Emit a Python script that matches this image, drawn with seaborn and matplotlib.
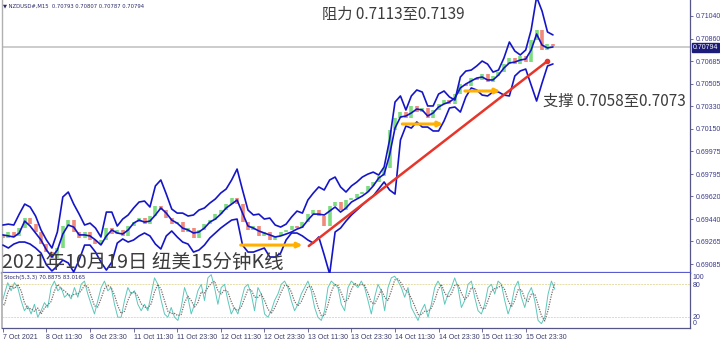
import numpy as np
import pandas as pd
import matplotlib
matplotlib.use("Agg")
import matplotlib.pyplot as plt
import matplotlib.transforms as mtransforms
import seaborn as sns

sns.set_theme(style="white")
plt.rcParams['font.family'] = ['Noto Sans CJK SC', 'DejaVu Sans']

# ---------------- data (NZDUSD M15, sampled every 6 bars) ----------------
SAMPLE_STEP_BARS = 6
upper = [0.69393, 0.69400, 0.69393, 0.69479, 0.69558, 0.69535, 0.69464, 0.69354, 0.69275, 0.69212,
         0.69338, 0.69614, 0.69653, 0.69558, 0.69479, 0.69393, 0.69408, 0.69369, 0.69299, 0.69495,
         0.69495, 0.69385, 0.69440, 0.69472, 0.69527, 0.69574, 0.69582, 0.69535, 0.69701, 0.69748,
         0.69637, 0.69519, 0.69487, 0.69487, 0.69464, 0.69472, 0.69511, 0.69527, 0.69566, 0.69598,
         0.69645, 0.69677, 0.69748, 0.69834, 0.69669, 0.69511, 0.69472, 0.69479, 0.69440, 0.69448,
         0.69393, 0.69377, 0.69400, 0.69456, 0.69503, 0.69487, 0.69590, 0.69645, 0.69693, 0.69669,
         0.69748, 0.69771, 0.69693, 0.69653, 0.69701, 0.69732, 0.69771, 0.69794, 0.69810, 0.69787,
         0.69850, 0.70063, 0.70362, 0.70410, 0.70299, 0.70410, 0.70457, 0.70441, 0.70331, 0.70331,
         0.70425, 0.70449, 0.70402, 0.70378, 0.70559, 0.70606, 0.70614, 0.70646, 0.70685, 0.70661,
         0.70598, 0.70614, 0.70709, 0.70835, 0.70764, 0.70733, 0.70772, 0.70930, 0.71190, 0.71079,
         0.70914, 0.70891]
middle = [0.69315, 0.69307, 0.69299, 0.69330, 0.69424, 0.69385, 0.69330, 0.69275, 0.69196, 0.69141,
          0.69196, 0.69322, 0.69393, 0.69377, 0.69315, 0.69315, 0.69307, 0.69275, 0.69236, 0.69307,
          0.69354, 0.69330, 0.69322, 0.69354, 0.69408, 0.69432, 0.69416, 0.69424, 0.69472, 0.69527,
          0.69487, 0.69432, 0.69408, 0.69369, 0.69354, 0.69330, 0.69338, 0.69369, 0.69416, 0.69440,
          0.69479, 0.69527, 0.69558, 0.69590, 0.69487, 0.69385, 0.69369, 0.69346, 0.69330, 0.69315,
          0.69299, 0.69307, 0.69322, 0.69338, 0.69361, 0.69377, 0.69432, 0.69479, 0.69479, 0.69472,
          0.69503, 0.69535, 0.69495, 0.69527, 0.69574, 0.69598, 0.69622, 0.69653, 0.69701, 0.69763,
          0.69794, 0.69945, 0.70157, 0.70244, 0.70252, 0.70276, 0.70307, 0.70299, 0.70252, 0.70276,
          0.70323, 0.70347, 0.70362, 0.70394, 0.70473, 0.70504, 0.70528, 0.70551, 0.70559, 0.70536,
          0.70536, 0.70575, 0.70630, 0.70670, 0.70677, 0.70693, 0.70701, 0.70772, 0.70898, 0.70811,
          0.70788, 0.70796]
lower = [0.69235, 0.69212, 0.69243, 0.69259, 0.69259, 0.69243, 0.69212, 0.69172, 0.69078, 0.69031,
         0.69070, 0.69117, 0.69094, 0.69023, 0.69117, 0.69235, 0.69235, 0.69180, 0.69101, 0.69038,
         0.69101, 0.69251, 0.69283, 0.69259, 0.69275, 0.69307, 0.69330, 0.69307, 0.69243, 0.69204,
         0.69307, 0.69346, 0.69299, 0.69259, 0.69243, 0.69180, 0.69196, 0.69235, 0.69291, 0.69330,
         0.69369, 0.69401, 0.69432, 0.69440, 0.69235, 0.69180, 0.69180, 0.69196, 0.69212, 0.69141,
         0.69141, 0.69172, 0.69275, 0.69330, 0.69330, 0.69307, 0.69275, 0.69251, 0.69299, 0.69157,
         0.69007, 0.69338, 0.69369, 0.69424, 0.69472, 0.69511, 0.69551, 0.69590, 0.69622, 0.69677,
         0.69732, 0.69669, 0.69637, 0.70063, 0.70173, 0.70157, 0.70205, 0.70165, 0.70165, 0.70134,
         0.70134, 0.70213, 0.70315, 0.70323, 0.70283, 0.70402, 0.70473, 0.70457, 0.70417, 0.70410,
         0.70441, 0.70441, 0.70417, 0.70410, 0.70567, 0.70607, 0.70622, 0.70496, 0.70370, 0.70512,
         0.70646, 0.70662]
close = [0.69291, 0.69338, 0.69307, 0.69369, 0.69448, 0.69401, 0.69338, 0.69243, 0.69180, 0.69133,
         0.69212, 0.69385, 0.69432, 0.69338, 0.69291, 0.69338, 0.69275, 0.69243, 0.69275, 0.69369,
         0.69322, 0.69354, 0.69307, 0.69385, 0.69416, 0.69448, 0.69401, 0.69464, 0.69543, 0.69511,
         0.69448, 0.69401, 0.69416, 0.69338, 0.69369, 0.69291, 0.69354, 0.69401, 0.69432, 0.69479,
         0.69511, 0.69558, 0.69606, 0.69558, 0.69416, 0.69354, 0.69385, 0.69307, 0.69338, 0.69275,
         0.69307, 0.69338, 0.69354, 0.69385, 0.69369, 0.69416, 0.69479, 0.69511, 0.69464, 0.69385,
         0.69543, 0.69574, 0.69511, 0.69590, 0.69606, 0.69637, 0.69653, 0.69701, 0.69732, 0.69779,
         0.69842, 0.70142, 0.70236, 0.70283, 0.70236, 0.70331, 0.70283, 0.70315, 0.70236, 0.70299,
         0.70347, 0.70378, 0.70347, 0.70425, 0.70504, 0.70488, 0.70551, 0.70536, 0.70583, 0.70520,
         0.70567, 0.70599, 0.70662, 0.70709, 0.70662, 0.70725, 0.70677, 0.70851, 0.70930, 0.70772,
         0.70819, 0.70804]

stoch_k = [40, 62, 83, 68, 83, 74, 50, 31, 40, 25, 43, 19, 31, 46, 37, 74, 86, 68, 74, 56,
           62, 53, 74, 56, 80, 86, 62, 43, 25, 50, 74, 86, 68, 74, 43, 19, 19, 50, 74, 62,
           68, 43, 31, 43, 31, 62, 92, 80, 50, 25, 19, 37, 19, 13, 37, 74, 56, 25, 43, 68,
           80, 50, 92, 98, 74, 43, 74, 80, 50, 25, 37, 25, 50, 74, 80, 62, 31, 74, 62, 25,
           19, 31, 50,
           62, 80, 86, 74, 50, 31, 43, 62, 74, 86, 68, 37, 19, 13, 31, 74, 86, 80, 74, 43,
           31, 74, 86, 80, 74, 86, 74, 50, 25, 56, 80, 68, 31, 74, 92, 95, 86, 74, 56, 74,
           37, 25, 13, 31, 43, 19, 43, 74, 86, 74, 43, 62, 74, 92, 74, 37, 50, 80, 86, 56,
           31, 25, 43, 74, 80, 62, 86, 80, 50, 25, 43, 74, 86, 56, 37, 62, 74, 50, 13, 7,
           19, 62, 86, 71]
stoch_d = [45, 42, 65, 78, 72, 80, 68, 46, 35, 35, 30, 36, 25, 36, 42, 48, 68, 80, 72, 68,
           62, 58, 62, 62, 68, 78, 76, 58, 40, 38, 54, 72, 78, 74, 60, 40, 26, 30, 50, 64,
           66, 58, 44, 38, 36, 44, 66, 80, 70, 50, 30, 26, 26, 22, 24, 46, 58, 50, 38, 46,
           66, 64, 74, 82, 86, 68, 62, 70, 66, 48, 34, 32, 38, 54, 70, 70, 56, 56, 62, 50,
           34, 26, 36,
           50, 66, 78, 78, 66, 48, 40, 48, 62, 76, 76, 60, 38, 22, 22, 42, 66, 80, 78, 64,
           48, 52, 70, 82, 78, 80, 78, 64, 46, 44, 56, 70, 56, 50, 68, 88, 90, 82, 70, 66,
           54, 40, 24, 24, 30, 30, 36, 50, 70, 80, 64, 56, 62, 78, 80, 64, 52, 58, 74, 72,
           52, 36, 34, 50, 68, 72, 74, 78, 70, 50, 38, 50, 70, 70, 54, 48, 62, 62, 42, 22,
           12, 32, 60, 83]

date_labels = ["7 Oct 2021", "8 Oct 11:30", "8 Oct 23:30", "11 Oct 11:30", "11 Oct 23:30",
               "12 Oct 11:30", "12 Oct 23:30", "13 Oct 11:30", "13 Oct 23:30", "14 Oct 11:30",
               "14 Oct 23:30", "15 Oct 11:30", "15 Oct 23:30"]
BARS_PER_LABEL = 48
price_ticks = [0.71040, 0.70860, 0.70685, 0.70505, 0.70330, 0.70150, 0.69975,
               0.69795, 0.69620, 0.69440, 0.69265, 0.69085]
last_price = 0.70794
header_text = "▼ NZDUSD#,M15  0.70793 0.70807 0.70787 0.70794"
stoch_text = "Stoch(5,3,3) 70.8875 83.0165"
trend_bars = [337, 600]
trend_prices = [0.69228, 0.70685]
level_segments = [(262, 330, 0.69235), (440, 485, 0.70189), (509, 548, 0.70449)]
resist_text = "阻力 0.7113至0.7139"
support_text = "支撑 0.7058至0.7073"
title_text = "2021年10月19日 纽美15分钟K线"

# ---------------- figure ----------------
W, H = 720, 341
fig = plt.figure(figsize=(W / 100, H / 100), dpi=100)
fig.patch.set_facecolor("white")
SMALL = dict(family=["Liberation Sans", "DejaVu Sans"])
AXIS_COL = "#3a3a8a"

def fx(px):
    return px / W

def fy(py):
    return 1 - py / H

ax = fig.add_axes([fx(2), fy(273), fx(690) - fx(2), fy(0) - fy(273)])
ax2 = fig.add_axes([fx(2), fy(328), fx(690) - fx(2), fy(273) - fy(328)])

bars = np.arange(len(upper)) * SAMPLE_STEP_BARS
df = pd.DataFrame({"bar": bars, "upper": upper, "middle": middle,
                   "lower": lower, "close": close})
df["open"] = np.r_[middle[0], np.array(close[:-1])]

ax.axhline(last_price, color="#c8c8c8", lw=1.3, zorder=1)

# candles (bodies)
up = df["close"] >= df["open"]
ax.vlines(df.loc[up, "bar"], df.loc[up, "open"], df.loc[up, "close"],
          colors="#7ddc7d", lw=2.6, zorder=2)
ax.vlines(df.loc[~up, "bar"], df.loc[~up, "open"], df.loc[~up, "close"],
          colors="#f08a7a", lw=2.6, zorder=2)

band_color = "#1515c8"
for col in ["upper", "middle", "lower"]:
    sns.lineplot(data=df, x="bar", y=col, ax=ax, color=band_color, lw=1.2,
                 legend=False, zorder=3)

# trend line
sns.lineplot(x=trend_bars, y=trend_prices, ax=ax, color="#e8352a", lw=1.8, zorder=4)
ax.plot(trend_bars[1], trend_prices[1], marker="o", ms=3, color="#e8352a", zorder=4)

# orange levels
for b0, b1, p in level_segments:
    ax.annotate("", xy=(b1, p), xytext=(b0, p),
                arrowprops=dict(arrowstyle="-|>", color="#ffb000", lw=2.2,
                                mutation_scale=7, shrinkA=0, shrinkB=0), zorder=5)

ax.set_xlim(-1, 757)
ax.set_ylim(0.69015, 0.71166)
ax.set_xlabel("")
ax.set_ylabel("")
ax.set_xticks([])
ax.yaxis.tick_right()
ax.set_yticks(price_ticks)
ax.set_yticklabels([f"{p:.5f}" for p in price_ticks], fontsize=5.0, color=AXIS_COL, **SMALL)
ax.tick_params(axis="y", which="major", direction="out", length=2.5, width=0.6,
               color="#555588", pad=1.5, right=True, left=False)
ax.spines["top"].set_visible(False)
ax.spines["left"].set_color("#b0b0b0")
ax.spines["left"].set_linewidth(1.0)
ax.spines["right"].set_color("#555588")
ax.spines["right"].set_linewidth(0.9)
ax.spines["bottom"].set_color("#5b5bd0")
ax.spines["bottom"].set_linewidth(1.6)

# last price tag
trans = mtransforms.blended_transform_factory(ax.transAxes, ax.transData)
ax.text(1.004, last_price, f"{last_price:.5f}", transform=trans, fontsize=5.0,
        color="white", va="center", ha="left", **SMALL,
        bbox=dict(boxstyle="square,pad=0.12", fc="#1b1b7a", ec="#1b1b7a"))

# ---------------- stochastic ----------------
sx = np.linspace(-2, 608, len(stoch_k))
sdf = pd.DataFrame({"bar": sx, "k": stoch_k, "d": stoch_d})
ax2.axhline(80, color="#e6dca8", lw=0.7, ls=(0, (2, 1)))
ax2.axhline(20, color="#e6dca8", lw=0.7, ls=(0, (2, 1)))
sns.lineplot(data=sdf, x="bar", y="k", ax=ax2, color="#5cc8bc", lw=0.7, legend=False)
sns.lineplot(data=sdf, x="bar", y="d", ax=ax2, color="#7a6c6c", lw=0.9,
             ls=(0, (1, 1)), legend=False)
ax2.set_xlim(-1, 757)
ax2.set_ylim(-1, 101)
ax2.set_xlabel("")
ax2.set_ylabel("")
ax2.yaxis.tick_right()
ax2.set_yticks([0, 20, 80, 100])
ylabs = ax2.set_yticklabels(["0", "20", "80", "100"], fontsize=5.0, color=AXIS_COL, **SMALL)
ylabs[0].set_va("bottom")
ylabs[3].set_va("top")
ax2.tick_params(axis="y", length=0, pad=2)
ticks = np.arange(len(date_labels)) * BARS_PER_LABEL
ax2.set_xticks(ticks)
ax2.set_xticklabels(date_labels, fontsize=5.0, color="#3a3a6a", ha="left", **SMALL)
ax2.tick_params(axis="x", direction="out", length=3, width=0.6, color="#555588", pad=1.5,
                bottom=True)
ax2.spines["top"].set_visible(False)
ax2.spines["left"].set_color("#b0b0b0")
ax2.spines["right"].set_color("#555588")
ax2.spines["right"].set_linewidth(0.9)
ax2.spines["bottom"].set_color("#555588")
ax2.spines["bottom"].set_linewidth(0.9)

# ---------------- texts ----------------
fig.text(fx(3), fy(6), header_text, fontsize=3.8, color="#2a2a6a", va="center",
         family=["DejaVu Sans"])
fig.text(fx(4), fy(278), stoch_text, fontsize=3.9, color="#2a2a6a", va="center",
         family=["DejaVu Sans"])
fig.text(fx(322), fy(14), resist_text, fontsize=11, color="#3c3c3c", va="center")
fig.text(fx(543), fy(101), support_text, fontsize=11, color="#3c3c3c", va="center")
fig.text(fx(2), fy(262), title_text, fontsize=14, color="#3c3c3c", va="center", zorder=10)

fig.savefig("out.png", dpi=100)
